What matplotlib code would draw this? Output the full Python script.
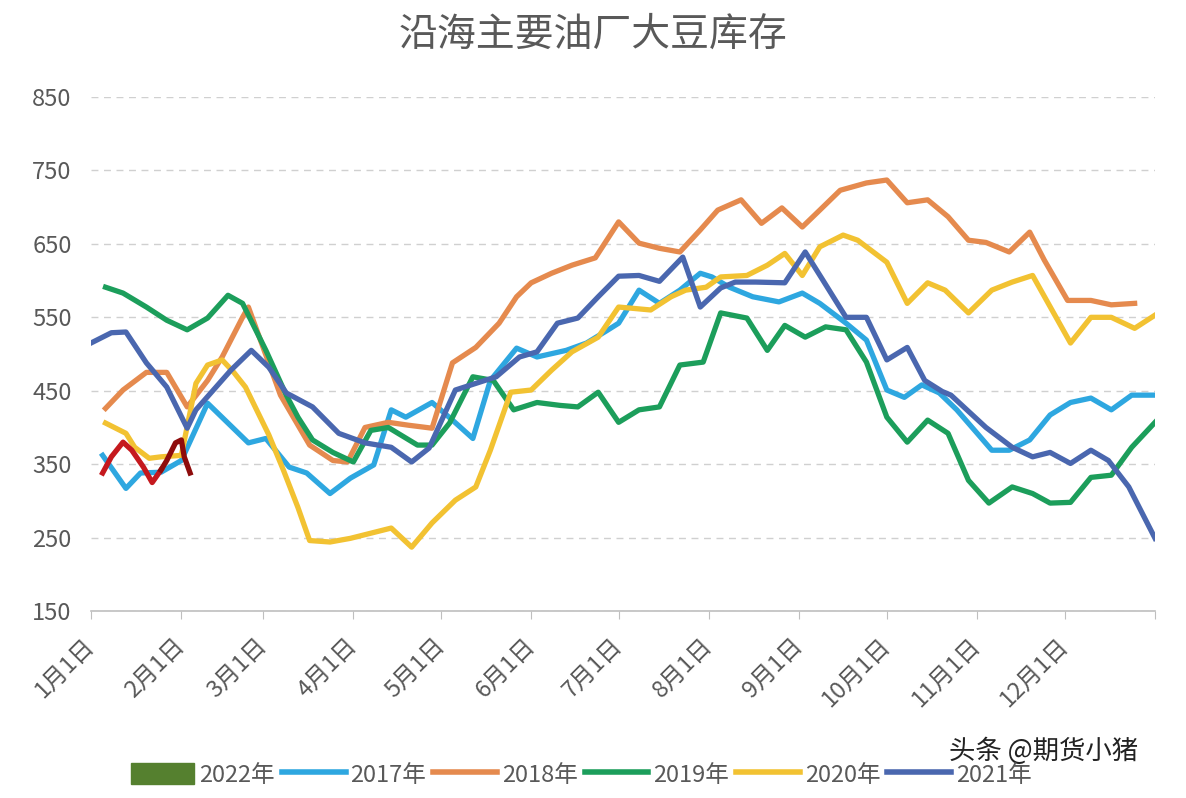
import matplotlib
matplotlib.use("Agg")
import matplotlib.pyplot as plt
from matplotlib.patches import Patch
from matplotlib.lines import Line2D

plt.rcParams['font.family'] = ['Noto Sans CJK SC', 'DejaVu Sans']

title = "沿海主要油厂大豆库存"
month_labels = ["1月1日", "2月1日", "3月1日", "4月1日", "5月1日", "6月1日",
                "7月1日", "8月1日", "9月1日", "10月1日", "11月1日", "12月1日"]
month_days = [0, 31, 59, 90, 120, 151, 181, 212, 243, 273, 304, 334]
y_ticks = [150, 250, 350, 450, 550, 650, 750, 850]

# day of year, stock (10k tons)
days_2017 = [4, 12, 17, 24, 31, 40, 54, 60, 68, 74, 82, 89, 97, 103, 108, 117, 124, 131,
             137, 146, 153, 163, 170, 177, 181, 188, 195, 202, 209, 213, 219, 227, 236,
             244, 250, 259, 266, 273, 279, 285, 291, 297, 304, 309, 315, 322, 329, 336,
             343, 350, 357, 365]
vals_2017 = [362, 317, 338, 339, 355, 433, 379, 385, 346, 338, 310, 331, 349, 424, 414, 434,
             410, 385, 464, 508, 496, 505, 515, 532, 542, 587, 569, 587, 610, 605, 591, 578,
             571, 583, 569, 542, 519, 451, 441, 458, 447, 424, 392, 369, 369, 383, 417, 434,
             440, 424, 444, 444]

days_2018 = [5, 11, 19, 26, 33, 40, 45, 52, 54, 65, 75, 83, 88, 94, 102, 109, 117, 124,
             132, 140, 146, 151, 158, 165, 173, 181, 188, 195, 202, 209, 215, 223, 230,
             237, 244, 250, 257, 266, 273, 280, 287, 294, 301, 307, 315, 322, 327, 335,
             343, 350, 358]
vals_2018 = [426, 451, 475, 475, 428, 464, 496, 550, 564, 444, 376, 355, 353, 400, 407, 403,
             399, 488, 509, 542, 578, 597, 610, 621, 631, 680, 651, 644, 639, 669, 696, 710,
             678, 699, 673, 696, 723, 733, 737, 706, 710, 687, 655, 652, 639, 666, 628, 573,
             573, 567, 569]

days_2019 = [5, 11, 19, 26, 33, 40, 47, 52, 60, 67, 71, 76, 83, 90, 96, 102, 112, 117,
             123, 131, 138, 145, 153, 161, 167, 174, 181, 188, 195, 202, 210, 216, 225,
             232, 238, 245, 252, 259, 266, 273, 280, 287, 294, 301, 308, 316, 323, 329,
             336, 343, 350, 357, 365]
vals_2019 = [591, 583, 564, 546, 533, 549, 580, 569, 505, 444, 414, 383, 366, 353, 396, 400,
             376, 376, 406, 469, 464, 424, 434, 430, 428, 448, 407, 424, 428, 485, 489, 556,
             549, 505, 539, 523, 537, 533, 489, 414, 380, 410, 392, 328, 297, 319, 310, 297,
             298, 332, 335, 373, 407]

days_2020 = [5, 12, 15, 20, 24, 31, 36, 40, 45, 49, 53, 61, 66, 71, 75, 82, 89, 96, 103,
             110, 117, 125, 132, 137, 144, 151, 158, 165, 174, 181, 192, 199, 204, 211,
             216, 225, 232, 238, 244, 250, 258, 263, 273, 280, 287, 293, 301, 309, 316,
             323, 336, 343, 350, 358, 365]
vals_2020 = [406, 392, 373, 358, 360, 362, 460, 485, 492, 475, 455, 390, 342, 291, 246, 244,
             249, 256, 263, 237, 270, 301, 319, 369, 448, 451, 478, 503, 523, 564, 560, 578,
             587, 591, 605, 607, 621, 637, 607, 646, 662, 655, 625, 569, 597, 587, 556, 587,
             598, 607, 515, 550, 550, 535, 553]

days_2021 = [0, 7, 12, 19, 26, 33, 36, 42, 48, 55, 61, 67, 76, 85, 94, 103, 110, 116,
             125, 132, 139, 147, 153, 160, 167, 174, 181, 188, 195, 203, 209, 216, 221,
             228, 238, 245, 251, 259, 266, 273, 280, 286, 292, 295, 307, 316, 323, 329,
             336, 343, 349, 356, 365]
vals_2021 = [515, 529, 530, 488, 455, 399, 424, 451, 478, 505, 482, 447, 428, 392, 379, 373,
             353, 372, 451, 460, 469, 496, 503, 542, 549, 578, 606, 607, 599, 632, 564, 590,
             598, 598, 597, 639, 601, 550, 550, 492, 509, 464, 449, 444, 400, 373, 360, 366,
             351, 369, 355, 319, 249]

days_2022 = [4, 7, 11, 14, 18, 21, 24, 26, 29, 31, 32, 34]
vals_2022 = [338, 360, 380, 369, 346, 325, 342, 355, 379, 383, 360, 338]

c2017 = "#2EA7E0"
c2018 = "#E58A4E"
c2019 = "#1C9E5B"
c2020 = "#F2C232"
c2021 = "#4A67AF"
c2022 = "#C5191E"
c2022b = "#8E0C0C"
c_patch = "#55802F"
txt_color = "#595959"

fig = plt.figure(figsize=(11.86, 7.98), dpi=100)
ax = fig.add_axes([0.0767, 0.2343, 0.8972, 0.6441])

lw = 3.8
ax.plot(days_2017, vals_2017, color=c2017, lw=lw, solid_joinstyle='round')
ax.plot(days_2018, vals_2018, color=c2018, lw=lw, solid_joinstyle='round')
ax.plot(days_2019, vals_2019, color=c2019, lw=lw, solid_joinstyle='round')
ax.plot(days_2020, vals_2020, color=c2020, lw=lw, solid_joinstyle='round')
ax.plot(days_2021, vals_2021, color=c2021, lw=lw, solid_joinstyle='round')
ax.plot(days_2022[:7], vals_2022[:7], color=c2022, lw=lw, solid_joinstyle='round')
ax.plot(days_2022[6:], vals_2022[6:], color=c2022b, lw=lw, solid_joinstyle='round')

ax.set_xlim(0, 365)
ax.set_ylim(150, 850)
ax.set_yticks(y_ticks)
ax.set_xticks(month_days + [365])
ax.set_xticklabels(month_labels + [""], rotation=45, ha='right', va='center',
                   rotation_mode='anchor')
ax.tick_params(axis='x', length=6, color='#bfbfbf', pad=16, labelsize=17,
               labelcolor=txt_color)
ax.tick_params(axis='y', length=0, pad=14, labelsize=17, labelcolor=txt_color)
ax.grid(axis='y', color='#d0d0d0', lw=1, ls=(0, (5, 4)))
for s in ['top', 'right', 'left']:
    ax.spines[s].set_visible(False)
ax.spines['bottom'].set_color('#bfbfbf')
ax.spines['bottom'].set_linewidth(1.2)

fig.text(0.5, 0.956, title, ha='center', va='center', fontsize=28, color=txt_color)

handles = [Patch(facecolor=c_patch, edgecolor=c_patch),
           Line2D([], [], color=c2017, lw=4),
           Line2D([], [], color=c2018, lw=4),
           Line2D([], [], color=c2019, lw=4),
           Line2D([], [], color=c2020, lw=4),
           Line2D([], [], color=c2021, lw=4)]
labels = ["2022年", "2017年", "2018年", "2019年", "2020年", "2021年"]
fig.legend(handles, labels, loc='center', bbox_to_anchor=(0.49, 0.029), ncol=6,
           frameon=False, fontsize=17, labelcolor=txt_color, handlelength=2.7,
           handleheight=1.0, handletextpad=0.2, columnspacing=0.3)

fig.text(0.80, 0.058, "头条 @期货小猪", ha='left', va='center', fontsize=19, color='#222222')

fig.savefig("out.png", dpi=100, facecolor='white')
